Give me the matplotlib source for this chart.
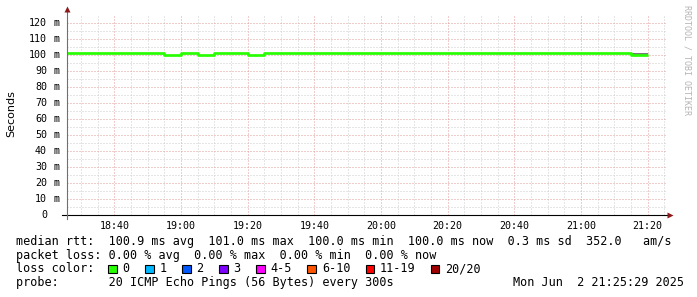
import numpy as np
import matplotlib.pyplot as plt
from matplotlib.lines import Line2D
from matplotlib.patches import Rectangle

plt.rcParams['font.family'] = 'DejaVu Sans Mono'

W, H = 697, 297


def hm(s):
    p = [float(v) for v in s.split(':')]
    return p[0] * 60 + p[1] + (p[2] / 60 if len(p) > 2 else 0)


# 5 min bins, first bin starts at 18:20
bin_start = '18:20'
median_ms = [101.0, 101.0, 101.0, 101.0, 101.0, 101.0, 101.0,
             100.0, 101.0, 100.0, 101.0, 101.0, 100.0,
             101.0, 101.0, 101.0, 101.0, 101.0, 101.0, 101.0, 101.0,
             101.0, 101.0, 101.0, 101.0, 101.0, 101.0, 101.0, 101.0,
             101.0, 101.0, 101.0, 101.0, 101.0, 101.0,
             100.0]
# upper edge of the smoke (ping spread), nan = hidden under the median
smoke_hi_ms = [np.nan] * 7 + [101.5, np.nan, 101.5, np.nan, np.nan, 101.5] + \
              [np.nan] * 22 + [101.5]

t_from, t_to = '18:25:48', '21:25:48'
x_ticks = ['18:40', '19:00', '19:20', '19:40', '20:00', '20:20', '20:40', '21:00', '21:20']
y_ticks = [0, 10, 20, 30, 40, 50, 60, 70, 80, 90, 100, 110, 120]
y_max = 125

stat_lines = [
    'median rtt:  100.9 ms avg  101.0 ms max  100.0 ms min  100.0 ms now  0.3 ms sd  352.0   am/s',
    'packet loss: 0.00 % avg  0.00 % max  0.00 % min  0.00 % now',
]
loss_labels = ['0', '1', '2', '3', '4-5', '6-10', '11-19', '20/20']
loss_colors = ['#26ff00', '#00b8ff', '#0059ff', '#7e00ff', '#ff00ff', '#ff5500', '#ff0000', '#a10000']
probe_text = 'probe:       20 ICMP Echo Pings (56 Bytes) every 300s'
stamp = 'Mon Jun  2 21:25:29 2025'


def fx(x):
    return x / W


def fy(y):
    return 1 - y / H


fig = plt.figure(figsize=(W / 100, H / 100), dpi=100)
fig.patch.set_facecolor('white')
ax = fig.add_axes([fx(67), fy(215), 600 / W, 200 / H])

t = hm(bin_start) + 5 * np.arange(len(median_ms) + 1)
med = np.append(median_ms, median_ms[-1])
smoke = np.append(smoke_hi_ms, smoke_hi_ms[-1])
ax.fill_between(t, med, smoke, step='post', color='#7a7a7a', lw=0)
ax.step(t, med, where='post', color='#26ff00', lw=1.95, solid_capstyle='butt')

ax.set_xlim(hm(t_from), hm(t_to))
ax.set_ylim(0, y_max)
ax.set_xticks([hm(s) for s in x_ticks])
ax.set_xticklabels(x_ticks)
ax.set_xticks(np.arange(hm('18:30'), hm(t_to), 5), minor=True)
ax.set_yticks(y_ticks)
ax.set_yticklabels([])
ax.set_yticks(np.arange(5, y_max, 10), minor=True)
ax.tick_params(which='both', length=0, labelsize=7.2, pad=4.5)
ax.set_axisbelow(True)
ax.grid(True, which='minor', color='#cccccc', ls=(0, (1, 2)), lw=0.72)
ax.grid(True, which='major', color='#e09c9c', ls=(0, (1, 2)), lw=0.72)
for s in ax.spines.values():
    s.set_visible(False)

# y labels: number right aligned, unit after it
ytr = ax.get_yaxis_transform()
for v in y_ticks:
    ax.text(-20 / 600, v, str(v), transform=ytr, ha='right', va='center', fontsize=7.2)
    if v:
        ax.text(-13 / 600, v, 'm', transform=ytr, ha='left', va='center', fontsize=7.2)

# axes with arrows
fig.add_artist(Line2D([fx(62), fx(668)], [fy(215), fy(215)], color='black', lw=0.8))
fig.add_artist(Line2D([fx(67), fx(67)], [fy(219), fy(11)], color='#707070', lw=0.8))
fig.add_artist(Line2D([fx(670)], [fy(215)], marker='>', ms=4, color='#8b1a1a', mec='none'))
fig.add_artist(Line2D([fx(67)], [fy(9)], marker='^', ms=4, color='#8b1a1a', mec='none'))

fig.text(fx(11), fy(114), 'Seconds', rotation=90, ha='center', va='center',
         fontsize=8, family='DejaVu Sans')
fig.text(fx(687), fy(5), 'RRDTOOL / TOBI OETIKER', rotation=270, ha='center', va='top',
         fontsize=6, color='#b4b4b4')

fs = 8.45
fig.text(fx(16), fy(245), stat_lines[0], fontsize=fs, va='baseline')
fig.text(fx(16), fy(258.7), stat_lines[1], fontsize=fs, va='baseline')
fig.text(fx(16), fy(272.4), 'loss color:', fontsize=fs, va='baseline')
bx = 108
for lab, col in zip(loss_labels, loss_colors):
    fig.add_artist(Rectangle((fx(bx), fy(273)), 8.5 / W, 8.5 / H, facecolor=col,
                             edgecolor='black', lw=0.8))
    fig.text(fx(bx + 14.6), fy(272.4), lab, fontsize=fs, va='baseline')
    bx += 29.9 + 7.1 * len(lab)
fig.text(fx(16), fy(286.3), probe_text, fontsize=fs, va='baseline')
fig.text(fx(16 + 70 * 7.1), fy(286.3), stamp, fontsize=fs, va='baseline')

fig.savefig('out.png', dpi=100, facecolor='white')
